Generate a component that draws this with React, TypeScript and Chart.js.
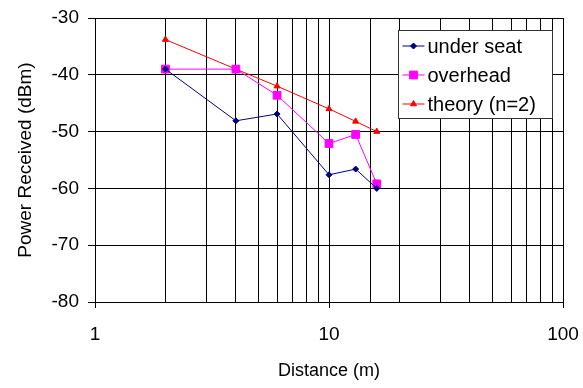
import React, { useEffect, useRef } from "react";
import { Chart, registerables } from "chart.js";

Chart.register(...registerables);

const distances = [2, 4, 6, 10, 13, 16];
const underSeat = [-39, -48.1, -46.9, -57.6, -56.6, -60];
const overhead = [-39, -39, -43.6, -52.1, -50.5, -59.2];
const theory = [-33.8, -39, -42, -46, -48.2, -50];
const seriesLabels = ["under seat", "overhead", "theory (n=2)"];
const yTicks = [-80, -70, -60, -50, -40, -30];

const FONT = "'Liberation Sans', Arial, sans-serif";

const isMajor = (v: number) => {
  const l = Math.log10(v);
  return Math.abs(l - Math.round(l)) < 1e-9;
};

function drawMarker(ctx: CanvasRenderingContext2D, style: string, r: number, x: number, y: number) {
  ctx.beginPath();
  if (style === "rectRot") {
    ctx.moveTo(x, y - r);
    ctx.lineTo(x + r, y);
    ctx.lineTo(x, y + r);
    ctx.lineTo(x - r, y);
    ctx.closePath();
  } else if (style === "rect") {
    const s = r * Math.SQRT1_2;
    ctx.rect(x - s, y - s, 2 * s, 2 * s);
  } else {
    ctx.moveTo(x, y - r);
    ctx.lineTo(x + r * 0.866, y + r * 0.5);
    ctx.lineTo(x - r * 0.866, y + r * 0.5);
    ctx.closePath();
  }
  ctx.fill();
  ctx.stroke();
}

const legendPlugin = {
  id: "boxLegend",
  afterDatasetsDraw(chart: any) {
    const { ctx, chartArea } = chart;
    const bx = Math.round(chartArea.left + 303) + 0.5;
    const by = Math.round(chartArea.top + 12) + 0.5;
    const bw = 154;
    const bh = 88;
    ctx.save();
    ctx.fillStyle = "#ffffff";
    ctx.fillRect(bx, by, bw, bh);
    ctx.strokeStyle = "#333333";
    ctx.lineWidth = 1;
    ctx.strokeRect(bx, by, bw, bh);
    chart.data.datasets.forEach((ds: any, i: number) => {
      const cy = by + 15.5 + i * 29;
      ctx.strokeStyle = ds.borderColor;
      ctx.lineWidth = 1;
      ctx.beginPath();
      ctx.moveTo(bx + 4, cy);
      ctx.lineTo(bx + 26, cy);
      ctx.stroke();
      ctx.fillStyle = ds.backgroundColor;
      drawMarker(ctx, ds.pointStyle, ds.pointRadius, bx + 15, cy);
      ctx.fillStyle = "#000";
      ctx.font = `20px ${FONT}`;
      ctx.textBaseline = "middle";
      ctx.textAlign = "left";
      ctx.fillText(ds.label, bx + 29, cy + 1);
    });
    ctx.restore();
  },
};

export default function App() {
  const ref = useRef<HTMLCanvasElement>(null);
  useEffect(() => {
    document.body.style.margin = "0";
    const mk = (vals: number[]) => distances.map((d, i) => ({ x: d, y: vals[i] }));
    const chart = new Chart(ref.current!, {
      type: "scatter",
      data: {
        datasets: [
          {
            label: seriesLabels[0],
            data: mk(underSeat),
            showLine: true,
            borderColor: "#000080",
            backgroundColor: "#000080",
            borderWidth: 1,
            pointStyle: "rectRot",
            pointRadius: 3,
          },
          {
            label: seriesLabels[1],
            data: mk(overhead),
            showLine: true,
            borderColor: "#FF00FF",
            backgroundColor: "#FF00FF",
            borderWidth: 1,
            pointStyle: "rect",
            pointRadius: 5.5,
          },
          {
            label: seriesLabels[2],
            data: mk(theory),
            showLine: true,
            borderColor: "#FF0000",
            backgroundColor: "#FF0000",
            borderWidth: 1,
            pointStyle: "triangle",
            pointRadius: 3.5,
          },
        ],
      },
      options: {
        responsive: false,
        animation: false,
        layout: { padding: { top: 18, right: 20, bottom: 2, left: 10 } },
        plugins: { legend: { display: false }, tooltip: { enabled: false } },
        scales: {
          x: {
            type: "logarithmic",
            min: 1,
            max: 100,
            afterFit: (s: any) => {
              s.height = 388 - 302 - 2;
            },
            grid: {
              color: "#000",
              lineWidth: 1,
              tickLength: 6,
              tickColor: (c: any) => (c.tick && isMajor(c.tick.value) ? "#000" : "rgba(0,0,0,0)"),
            },
            border: { color: "#000" },
            ticks: {
              autoSkip: false,
              maxRotation: 0,
              color: "#000",
              padding: 4,
              font: { family: FONT, size: 19, lineHeight: 2.35 },
              callback: (v: any) => (isMajor(Number(v)) ? String(Number(v)) : ""),
            },
            title: {
              display: true,
              text: "Distance (m)",
              color: "#000",
              font: { family: FONT, size: 18 },
              padding: { top: 4, bottom: 4 },
            },
          },
          y: {
            min: -80,
            max: -30,
            afterFit: (s: any) => {
              s.width = 95 - 10;
            },
            afterBuildTicks: (s: any) => {
              s.ticks = yTicks.map((v) => ({ value: v }));
            },
            grid: { color: "#000", lineWidth: 1, tickLength: 7, tickColor: "#000" },
            border: { color: "#000" },
            ticks: {
              color: "#000",
              padding: 9,
              font: { family: FONT, size: 19, lineHeight: 0.4 },
            },
            title: {
              display: true,
              text: "Power Received (dBm)",
              color: "#000",
              font: { family: FONT, size: 19 },
              padding: { top: 4, bottom: 4 },
            },
          },
        },
      },
      plugins: [legendPlugin],
    });
    return () => chart.destroy();
  }, []);
  return (
    <div style={{ position: "absolute", left: 0, top: 0 }}>
      <canvas ref={ref} width={583} height={388} />
    </div>
  );
}
